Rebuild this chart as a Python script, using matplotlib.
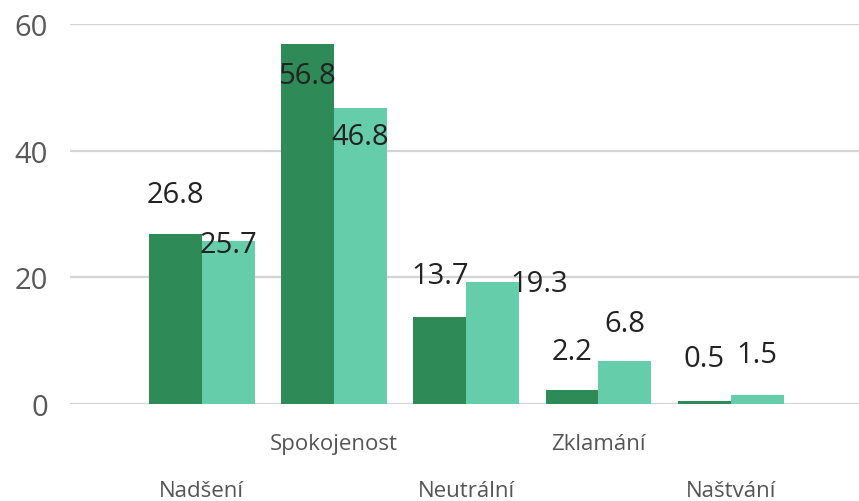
import matplotlib
matplotlib.use("Agg")
import matplotlib.pyplot as plt
import numpy as np

categories = ["Nadšení", "Spokojenost", "Neutrální", "Zklamání", "Naštvání"]
series_a = [26.8, 56.8, 13.7, 2.2, 0.5]
series_b = [25.7, 46.8, 19.3, 6.8, 1.5]
yticks = [0, 20, 40, 60]

# label placement styling (pixel offsets)
off_a = [(0, 40), (0, -31), (0, 42), (0, 39), (0, 42)]
off_b = [(0, -3), (0, -29), (47, -2), (0, 37), (0, 40)]
cat_row = [87, 40, 87, 40, 87]

plt.rcParams['font.family'] = ['Open Sans', 'DejaVu Sans']

fig = plt.figure(figsize=(8.59, 5.02), dpi=100)
ax = fig.add_axes([70/859, (502-405)/502, 1 - 70/859, (405-25)/502])

x = np.arange(len(categories))
w = 0.40
c_a, c_b = "#2e8b57", "#66cdaa"
ax.bar(x - w/2, series_a, w, color=c_a, zorder=2)
ax.bar(x + w/2, series_b, w, color=c_b, zorder=2)

ax.set_xlim(-0.995, 4.97)
ax.set_ylim(0, 60)
ax.set_yticks(yticks)
ax.set_yticklabels([str(t) for t in yticks], fontsize=21, color="#595959")
ax.tick_params(axis='y', length=0, pad=16)
ax.set_xticks([])
for s in ax.spines.values():
    s.set_visible(False)
ax.grid(axis='y', color="#d4d4d4", linewidth=1.6, zorder=0)

for i in range(len(categories)):
    ax.annotate(f"{series_a[i]}", (x[i] - w/2, series_a[i]), xytext=off_a[i],
                textcoords='offset pixels', ha='center', va='center',
                fontsize=21, color="#222222", zorder=3)
    ax.annotate(f"{series_b[i]}", (x[i] + w/2, series_b[i]), xytext=off_b[i],
                textcoords='offset pixels', ha='center', va='center',
                fontsize=21, color="#222222", zorder=3)
    ax.annotate(categories[i], (x[i], 0), xycoords=('data', 'axes fraction'),
                xytext=(0, -cat_row[i]), textcoords='offset pixels',
                ha='center', va='center', fontsize=16, color="#555555",
                annotation_clip=False)

fig.savefig("out.png", dpi=100)
